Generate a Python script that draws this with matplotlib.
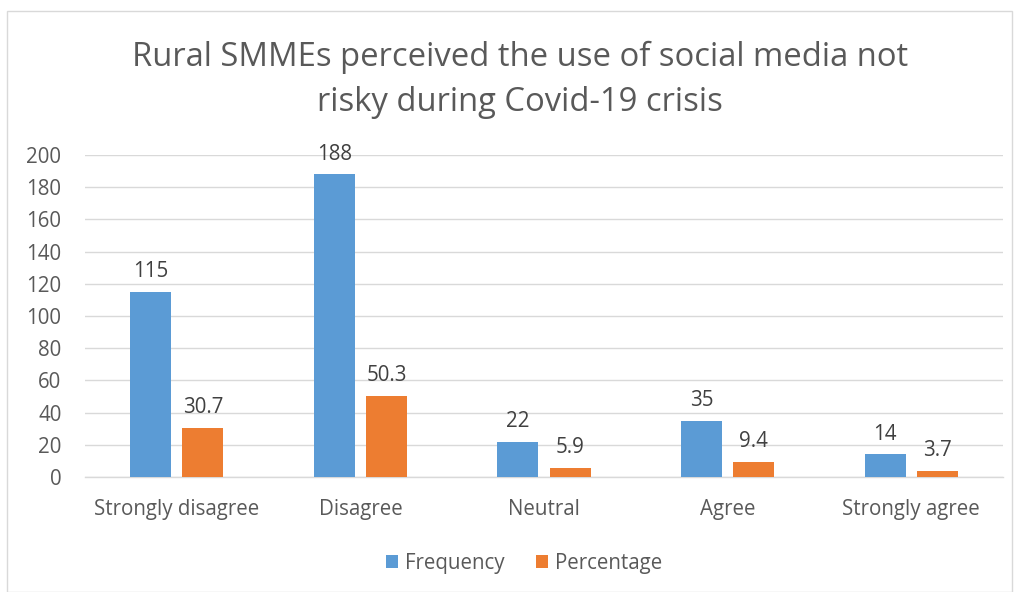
import matplotlib
matplotlib.use("Agg")
import matplotlib.pyplot as plt
import numpy as np
from matplotlib.patches import Rectangle

categories = ["Strongly disagree", "Disagree", "Neutral", "Agree", "Strongly agree"]
frequency = [115, 188, 22, 35, 14]
percentage = [30.7, 50.3, 5.9, 9.4, 3.7]
freq_labels = ["115", "188", "22", "35", "14"]
pct_labels = ["30.7", "50.3", "5.9", "9.4", "3.7"]
yticks = [0, 20, 40, 60, 80, 100, 120, 140, 160, 180, 200]

BLUE = "#5B9BD5"
ORANGE = "#ED7D31"
TXT = "#595959"
GRID = "#D9D9D9"
FONT = "Open Sans"
FS = 14.8

plt.rcParams['font.family'] = [FONT, 'DejaVu Sans']

fig = plt.figure(figsize=(10.17, 5.92), dpi=100)
fig.patches.append(Rectangle((7/1017, 0), 1005/1017, 581/592, transform=fig.transFigure,
                             fill=False, edgecolor="#D9D9D9", linewidth=1.0))

ax = fig.add_axes([85/1017, 115/592, 918/1017, 322/592])
x = np.arange(len(categories))
w = 0.223
off = 0.142
b1 = ax.bar(x - off, frequency, w, color=BLUE, label="Frequency", zorder=3)
b2 = ax.bar(x + off, percentage, w, color=ORANGE, label="Percentage", zorder=3)

for rect, lab in zip(b1, freq_labels):
    ax.annotate(lab, (rect.get_x() + rect.get_width()/2, rect.get_height()),
                xytext=(0, 7), textcoords="offset points", ha="center", va="bottom",
                fontsize=FS, color="#404040")
for rect, lab in zip(b2, pct_labels):
    ax.annotate(lab, (rect.get_x() + rect.get_width()/2, rect.get_height()),
                xytext=(0, 7), textcoords="offset points", ha="center", va="bottom",
                fontsize=FS, color="#404040")

ax.set_xlim(-0.5, len(categories) - 0.5)
ax.set_ylim(0, 200)
ax.set_yticks(yticks)
ax.set_yticklabels([str(t) for t in yticks])
ax.set_xticks(x)
ax.set_xticklabels(categories)
ax.tick_params(axis="both", length=0, labelsize=FS, labelcolor=TXT)
ax.tick_params(axis="x", pad=16)
ax.tick_params(axis="y", pad=17)
ax.yaxis.grid(True, color=GRID, linewidth=1.0, zorder=0)
for s in ["top", "right", "left"]:
    ax.spines[s].set_visible(False)
ax.spines["bottom"].set_color(GRID)
ax.spines["bottom"].set_linewidth(1.0)

fig.text(520/1017, 1 - 80/592, "Rural SMMEs perceived the use of social media not\nrisky during Covid-19 crisis",
         ha="center", va="center", fontsize=23.6, color=TXT, linespacing=1.5)

leg = fig.legend(handles=[b1, b2], loc="center", bbox_to_anchor=(524/1017, 1 - 563/592),
                 ncol=2, frameon=False, fontsize=FS, handlelength=0.6, handleheight=0.6,
                 columnspacing=1.5, handletextpad=0.35)
for t in leg.get_texts():
    t.set_color(TXT)

fig.savefig("out.png", dpi=100)
